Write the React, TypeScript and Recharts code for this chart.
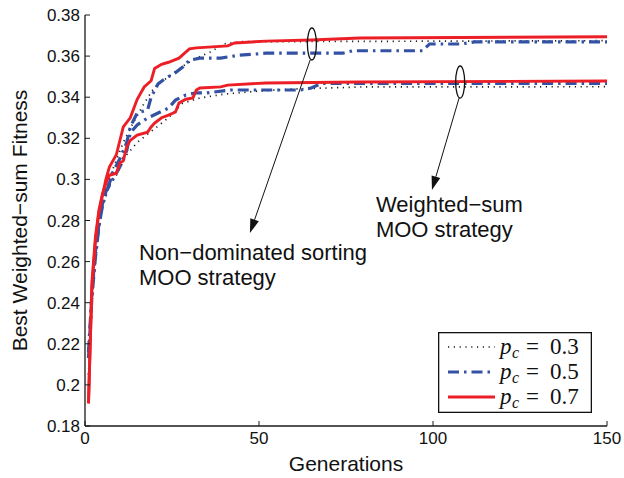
import React from 'react';
import { LineChart, Line, XAxis, YAxis, Legend, ReferenceDot, ReferenceLine } from 'recharts';

// [generation, best weighted-sum fitness]
// non-dominated sorting MOO strategy (upper group)
const ndP03: [number, number][] = [
  [1, 0.205], [2, 0.24], [3, 0.262], [4, 0.277], [5, 0.288], [6, 0.296], [8, 0.305],
  [11, 0.318], [14, 0.328], [17, 0.337], [20, 0.345], [24, 0.35], [28, 0.355],
  [32, 0.359], [36, 0.362], [40, 0.366], [45, 0.367], [150, 0.3675],
];
const ndP05: [number, number][] = [
  [1, 0.216], [2, 0.245], [3, 0.265], [4, 0.278], [5, 0.288], [7, 0.298], [8, 0.3035],
  [10, 0.31], [12, 0.318], [13, 0.3255], [15, 0.3323], [18, 0.3338], [19, 0.34],
  [21, 0.3465], [23, 0.349], [26, 0.352], [28, 0.3545], [30, 0.358], [33, 0.359],
  [39, 0.359], [44, 0.3604], [52, 0.3614], [74, 0.3614], [77, 0.3626], [97, 0.3626],
  [99, 0.3659], [108, 0.3659], [112, 0.3669], [150, 0.3669],
];
const ndP07: [number, number][] = [
  [1, 0.191], [2, 0.248], [3, 0.27], [4, 0.284], [5, 0.292], [6, 0.3], [7, 0.306],
  [8, 0.309], [9, 0.312], [11, 0.3255], [13, 0.33], [15, 0.339], [17, 0.345],
  [19, 0.348], [20, 0.354], [22, 0.356], [24, 0.357], [27, 0.359], [30, 0.3635],
  [32, 0.364], [41, 0.365], [43, 0.3664], [52, 0.3673], [65, 0.3678], [79, 0.3688],
  [150, 0.3694],
];
// weighted-sum MOO strategy (lower group)
const wsP03: [number, number][] = [
  [1, 0.205], [2, 0.24], [3, 0.26], [4, 0.275], [5, 0.286], [7, 0.297], [9, 0.302],
  [12, 0.312], [15, 0.318], [18, 0.322], [21, 0.326], [24, 0.33], [28, 0.337],
  [33, 0.3396], [40, 0.3415], [50, 0.343], [60, 0.344], [80, 0.345], [150, 0.3451],
];
const wsP05: [number, number][] = [
  [1, 0.213], [2, 0.243], [3, 0.262], [4, 0.277], [5, 0.287], [6, 0.294], [8, 0.3],
  [10, 0.306], [12, 0.314], [13, 0.3226], [15, 0.3265], [18, 0.3299], [21, 0.3323],
  [24, 0.3347], [26, 0.3386], [29, 0.3411], [32, 0.3421], [35, 0.3421], [37, 0.3425],
  [42, 0.3435], [62, 0.3435], [65, 0.3445], [68, 0.3467], [150, 0.3467],
];
const wsP07: [number, number][] = [
  [1, 0.191], [2, 0.25], [3, 0.272], [4, 0.285], [5, 0.293], [6, 0.298], [7, 0.302],
  [9, 0.303], [10, 0.308], [11, 0.309], [12, 0.316], [13, 0.319], [15, 0.3216],
  [18, 0.323], [19, 0.3255], [20, 0.3274], [22, 0.33], [24, 0.3313], [26, 0.3328],
  [27, 0.3372], [29, 0.339], [31, 0.3396], [32, 0.3435], [33, 0.3445], [39, 0.345],
  [41, 0.3459], [52, 0.3469], [79, 0.3474], [150, 0.3479],
];

const xTicks = [0, 50, 100, 150];
const yTicks = [0.18, 0.2, 0.22, 0.24, 0.26, 0.28, 0.3, 0.32, 0.34, 0.36, 0.38];
const pcValues = ['0.3', '0.5', '0.7'];

const FONT = '"Liberation Sans", Arial, Helvetica, sans-serif';
const SERIF = '"Liberation Serif", "DejaVu Serif", serif';
const AXIS = '#1a1a1a';

const styles = [
  { color: '#1b1b1b', width: 1.7, dash: '1.2 4.6' },
  { color: '#3452a4', width: 3.2, dash: '11 5 2.5 5' },
  { color: '#ec1f26', width: 2.9, dash: undefined as string | undefined },
];

const toRows = (pts: [number, number][]) => pts.map(([gen, fit]) => ({ gen, fit }));

const series = [
  { key: 'nd03', pts: ndP03, s: 0 },
  { key: 'ws03', pts: wsP03, s: 0 },
  { key: 'nd05', pts: ndP05, s: 1 },
  { key: 'ws05', pts: wsP05, s: 1 },
  { key: 'nd07', pts: ndP07, s: 2 },
  { key: 'ws07', pts: wsP07, s: 2 },
];

const fmtY = (v: number) => String(Number(v.toFixed(2)));

const BottomTick = (props: any) => {
  const { x, y, payload } = props;
  return (
    <g>
      <line x1={x} x2={x} y1={y} y2={y - 5} stroke={AXIS} />
      <text x={x} y={y + 18} textAnchor="middle" fontSize={17} fill="#111" fontFamily={FONT}>
        {payload.value}
      </text>
    </g>
  );
};

const TopTick = (props: any) => {
  const { x, y } = props;
  return <line x1={x} x2={x} y1={y} y2={y + 5} stroke={AXIS} />;
};

const LeftTick = (props: any) => {
  const { x, y, payload } = props;
  return (
    <g>
      <line x1={x} x2={x + 5} y1={y} y2={y} stroke={AXIS} />
      <text x={x - 5} y={y + 6} textAnchor="end" fontSize={17} fill="#111" fontFamily={FONT}>
        {fmtY(payload.value)}
      </text>
    </g>
  );
};

const RightTick = (props: any) => {
  const { x, y } = props;
  return <line x1={x} x2={x - 5} y1={y} y2={y} stroke={AXIS} />;
};

const TitleX = (props: any) => {
  const vb = props.viewBox || {};
  return (
    <text x={vb.x + vb.width / 2} y={vb.y + 45} textAnchor="middle" fontSize={21} fill="#111" fontFamily={FONT}>
      Generations
    </text>
  );
};

const TitleY = (props: any) => {
  const vb = props.viewBox || {};
  const cx = vb.x + 27;
  const cy = vb.y + vb.height / 2;
  return (
    <text x={cx} y={cy} transform={`rotate(-90 ${cx} ${cy})`} textAnchor="middle" fontSize={21} fill="#111" fontFamily={FONT}>
      Best Weighted−sum Fitness
    </text>
  );
};

const Ellipse = (props: any) => (
  <ellipse cx={props.cx} cy={props.cy} rx={4.5} ry={16} fill="none" stroke="#111" strokeWidth={1.3} />
);

const Arrow = (props: any) => {
  const { x1, y1, x2, y2 } = props;
  const a = Math.atan2(y2 - y1, x2 - x1);
  const len = 14;
  const hw = 4.5;
  const bx = x2 - len * Math.cos(a);
  const by = y2 - len * Math.sin(a);
  const px = -Math.sin(a) * hw;
  const py = Math.cos(a) * hw;
  return (
    <g>
      <line x1={x1} y1={y1} x2={bx} y2={by} stroke="#111" strokeWidth={1} />
      <polygon points={`${x2},${y2} ${bx + px},${by + py} ${bx - px},${by - py}`} fill="#111" />
    </g>
  );
};

const note = (lines: string[]) => (props: any) => (
  <text x={props.cx} y={props.cy} fontSize={22} fill="#111" fontFamily={FONT}>
    {lines.map((l, i) => (
      <tspan key={l} x={props.cx} dy={i ? 25 : 0}>
        {l}
      </tspan>
    ))}
  </text>
);

const LegendBox = () => (
  <svg width={154} height={81}>
    <rect x={0.65} y={0.65} width={152.7} height={79.7} fill="#fff" stroke="#111" strokeWidth={1.3} />
    {pcValues.map((v, i) => {
      const st = styles[i];
      const y = 15 + i * 25;
      return (
        <g key={v}>
          <line x1={10} x2={57} y1={y} y2={y} stroke={st.color} strokeWidth={st.width} strokeDasharray={st.dash} />
          <text y={y + 7} fontFamily={SERIF} fontSize={23} fill="#111">
            <tspan x={62} fontStyle="italic">p</tspan>
            <tspan x={74} dy={4} fontSize={16} fontStyle="italic">c</tspan>
            <tspan x={88} dy={-4}>=</tspan>
            <tspan x={112}>{v}</tspan>
          </text>
        </g>
      );
    })}
  </svg>
);

export default function App() {
  return (
    <div style={{ position: 'absolute', left: 0, top: 0 }}>
      <LineChart width={624} height={478} margin={{ top: 15, right: 17, bottom: 0, left: 0 }}>
        <XAxis
          dataKey="gen"
          type="number"
          domain={[0, 150]}
          ticks={xTicks}
          allowDataOverflow
          height={52}
          tickSize={0}
          tickMargin={0}
          tickLine={false}
          tick={<BottomTick />}
          axisLine={{ stroke: AXIS, strokeWidth: 1.3 }}
          label={<TitleX />}
        />
        <XAxis
          xAxisId="top"
          orientation="top"
          type="number"
          domain={[0, 150]}
          ticks={xTicks}
          allowDataOverflow
          height={0}
          tickSize={0}
          tickMargin={0}
          tickLine={false}
          tick={<TopTick />}
          axisLine={{ stroke: AXIS, strokeWidth: 1.3 }}
        />
        <YAxis
          type="number"
          domain={[0.18, 0.38]}
          ticks={yTicks}
          allowDataOverflow
          width={85}
          tickSize={0}
          tickMargin={0}
          tickLine={false}
          tick={<LeftTick />}
          axisLine={{ stroke: AXIS, strokeWidth: 1.3 }}
          label={<TitleY />}
        />
        <YAxis
          yAxisId="r"
          orientation="right"
          type="number"
          domain={[0.18, 0.38]}
          ticks={yTicks}
          allowDataOverflow
          width={0}
          tickSize={0}
          tickMargin={0}
          tickLine={false}
          tick={<RightTick />}
          axisLine={{ stroke: AXIS, strokeWidth: 1.3 }}
        />
        {series.map(({ key, pts, s }) => (
          <Line
            key={key}
            data={toRows(pts)}
            dataKey="fit"
            type="linear"
            dot={false}
            activeDot={false}
            stroke={styles[s].color}
            strokeWidth={styles[s].width}
            strokeDasharray={styles[s].dash}
            isAnimationActive={false}
            legendType="none"
          />
        ))}
        <ReferenceDot x={65.2} y={0.3659} shape={Ellipse} />
        <ReferenceDot x={107.8} y={0.3474} shape={Ellipse} />
        <ReferenceLine segment={[{ x: 64.7, y: 0.3581 }, { x: 47.4, y: 0.2739 }]} shape={Arrow} />
        <ReferenceLine segment={[{ x: 107.5, y: 0.3396 }, { x: 99.7, y: 0.2948 }]} shape={Arrow} />
        <ReferenceDot x={15.5} y={0.2608} shape={note(['Non−dominated sorting', 'MOO strategy'])} />
        <ReferenceDot x={83.6} y={0.2841} shape={note(['Weighted−sum', 'MOO strategy'])} />
        <Legend
          layout="vertical"
          align="center"
          verticalAlign="middle"
          content={<LegendBox />}
          wrapperStyle={{ position: 'absolute', left: 438, top: 332, width: 154, height: 81 }}
        />
      </LineChart>
    </div>
  );
}
